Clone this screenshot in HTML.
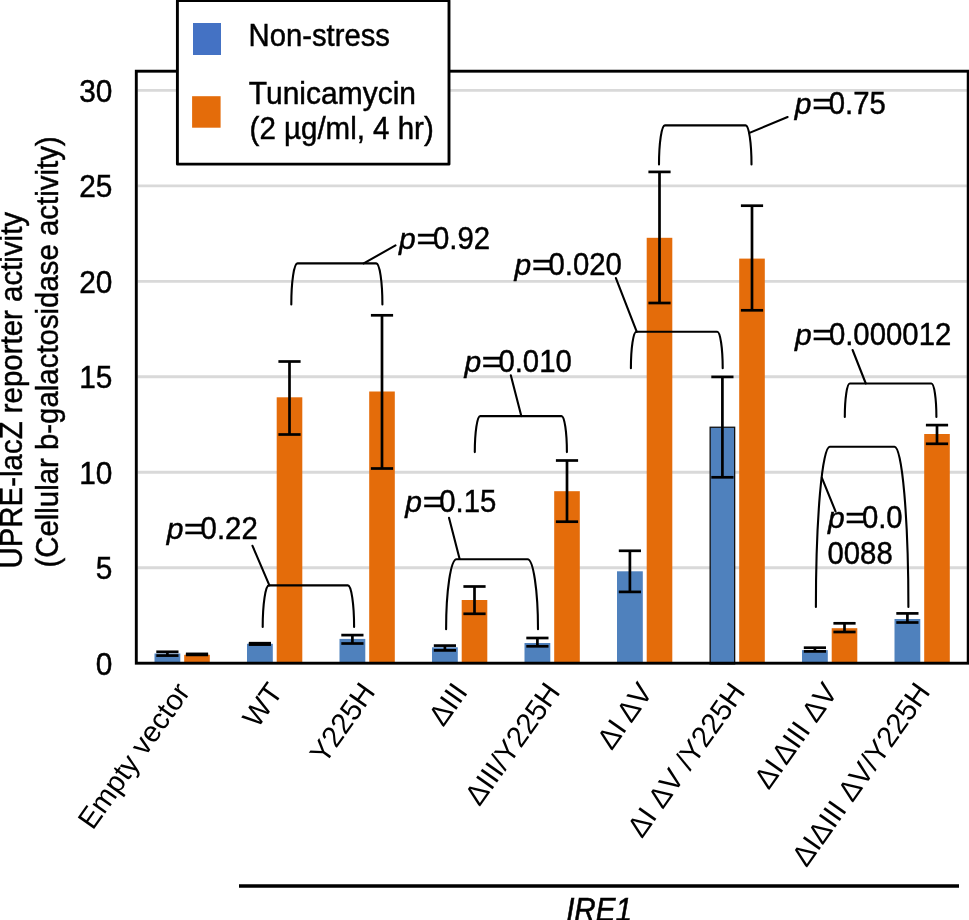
<!DOCTYPE html><html><head><meta charset="utf-8"><title>UPRE-lacZ reporter activity</title><style>
html,body{margin:0;padding:0;background:#fff;}
body{width:969px;height:920px;overflow:hidden;}
svg{display:block;font-family:"Liberation Sans",sans-serif;will-change:transform;}
</style></head><body>
<svg width="969" height="920" viewBox="0 0 969 920">
<rect x="0" y="0" width="969" height="920" fill="#fff"/>
<line x1="137.7" y1="567.76" x2="966.8" y2="567.76" stroke="#D9D9D9" stroke-width="2.8"/>
<line x1="137.7" y1="472.27" x2="966.8" y2="472.27" stroke="#D9D9D9" stroke-width="2.8"/>
<line x1="137.7" y1="376.77" x2="966.8" y2="376.77" stroke="#D9D9D9" stroke-width="2.8"/>
<line x1="137.7" y1="281.28" x2="966.8" y2="281.28" stroke="#D9D9D9" stroke-width="2.8"/>
<line x1="137.7" y1="185.79" x2="966.8" y2="185.79" stroke="#D9D9D9" stroke-width="2.8"/>
<line x1="137.7" y1="90.30" x2="966.8" y2="90.30" stroke="#D9D9D9" stroke-width="2.8"/>
<rect x="154.50" y="653.50" width="25.8" height="9.75" fill="#4F81BD"/>
<rect x="184.20" y="654.80" width="25.6" height="8.45" fill="#E46C0A"/>
<rect x="247.00" y="643.80" width="25.8" height="19.45" fill="#4F81BD"/>
<rect x="276.70" y="397.30" width="25.6" height="265.95" fill="#E46C0A"/>
<rect x="339.50" y="638.90" width="25.8" height="24.35" fill="#4F81BD"/>
<rect x="369.20" y="391.50" width="25.6" height="271.75" fill="#E46C0A"/>
<rect x="432.00" y="647.30" width="25.8" height="15.95" fill="#4F81BD"/>
<rect x="461.70" y="600.00" width="25.6" height="63.25" fill="#E46C0A"/>
<rect x="524.50" y="643.00" width="25.8" height="20.25" fill="#4F81BD"/>
<rect x="554.20" y="491.20" width="25.6" height="172.05" fill="#E46C0A"/>
<rect x="617.00" y="571.30" width="25.8" height="91.95" fill="#4F81BD"/>
<rect x="646.70" y="237.80" width="25.6" height="425.45" fill="#E46C0A"/>
<rect x="710.15" y="427.25" width="24.50" height="236.65" fill="#4F81BD" stroke="#111" stroke-width="1.3"/>
<rect x="739.20" y="258.60" width="25.6" height="404.65" fill="#E46C0A"/>
<rect x="802.00" y="650.10" width="25.8" height="13.15" fill="#4F81BD"/>
<rect x="831.70" y="628.20" width="25.6" height="35.05" fill="#E46C0A"/>
<rect x="894.50" y="619.00" width="25.8" height="44.25" fill="#4F81BD"/>
<rect x="924.20" y="434.00" width="25.6" height="229.25" fill="#E46C0A"/>
<line x1="167.40" y1="651.80" x2="167.40" y2="655.60" stroke="#000" stroke-width="2.7"/><line x1="156.30" y1="651.80" x2="178.50" y2="651.80" stroke="#000" stroke-width="2.7"/><line x1="156.30" y1="655.60" x2="178.50" y2="655.60" stroke="#000" stroke-width="2.7"/>
<line x1="197.00" y1="653.90" x2="197.00" y2="654.90" stroke="#000" stroke-width="2.7"/><line x1="185.90" y1="653.90" x2="208.10" y2="653.90" stroke="#000" stroke-width="2.7"/><line x1="185.90" y1="654.90" x2="208.10" y2="654.90" stroke="#000" stroke-width="2.7"/>
<line x1="259.90" y1="643.20" x2="259.90" y2="644.60" stroke="#000" stroke-width="2.7"/><line x1="248.80" y1="643.20" x2="271.00" y2="643.20" stroke="#000" stroke-width="2.7"/><line x1="248.80" y1="644.60" x2="271.00" y2="644.60" stroke="#000" stroke-width="2.7"/>
<line x1="289.50" y1="361.50" x2="289.50" y2="434.50" stroke="#000" stroke-width="2.7"/><line x1="278.40" y1="361.50" x2="300.60" y2="361.50" stroke="#000" stroke-width="2.7"/><line x1="278.40" y1="434.50" x2="300.60" y2="434.50" stroke="#000" stroke-width="2.7"/>
<line x1="352.40" y1="635.10" x2="352.40" y2="643.50" stroke="#000" stroke-width="2.7"/><line x1="341.30" y1="635.10" x2="363.50" y2="635.10" stroke="#000" stroke-width="2.7"/><line x1="341.30" y1="643.50" x2="363.50" y2="643.50" stroke="#000" stroke-width="2.7"/>
<line x1="382.00" y1="315.30" x2="382.00" y2="468.50" stroke="#000" stroke-width="2.7"/><line x1="370.90" y1="315.30" x2="393.10" y2="315.30" stroke="#000" stroke-width="2.7"/><line x1="370.90" y1="468.50" x2="393.10" y2="468.50" stroke="#000" stroke-width="2.7"/>
<line x1="444.90" y1="645.60" x2="444.90" y2="650.40" stroke="#000" stroke-width="2.7"/><line x1="433.80" y1="645.60" x2="456.00" y2="645.60" stroke="#000" stroke-width="2.7"/><line x1="433.80" y1="650.40" x2="456.00" y2="650.40" stroke="#000" stroke-width="2.7"/>
<line x1="474.50" y1="586.50" x2="474.50" y2="613.80" stroke="#000" stroke-width="2.7"/><line x1="463.40" y1="586.50" x2="485.60" y2="586.50" stroke="#000" stroke-width="2.7"/><line x1="463.40" y1="613.80" x2="485.60" y2="613.80" stroke="#000" stroke-width="2.7"/>
<line x1="537.40" y1="638.00" x2="537.40" y2="646.30" stroke="#000" stroke-width="2.7"/><line x1="526.30" y1="638.00" x2="548.50" y2="638.00" stroke="#000" stroke-width="2.7"/><line x1="526.30" y1="646.30" x2="548.50" y2="646.30" stroke="#000" stroke-width="2.7"/>
<line x1="567.00" y1="460.50" x2="567.00" y2="521.70" stroke="#000" stroke-width="2.7"/><line x1="555.90" y1="460.50" x2="578.10" y2="460.50" stroke="#000" stroke-width="2.7"/><line x1="555.90" y1="521.70" x2="578.10" y2="521.70" stroke="#000" stroke-width="2.7"/>
<line x1="629.90" y1="550.80" x2="629.90" y2="591.90" stroke="#000" stroke-width="2.7"/><line x1="618.80" y1="550.80" x2="641.00" y2="550.80" stroke="#000" stroke-width="2.7"/><line x1="618.80" y1="591.90" x2="641.00" y2="591.90" stroke="#000" stroke-width="2.7"/>
<line x1="659.50" y1="171.90" x2="659.50" y2="303.00" stroke="#000" stroke-width="2.7"/><line x1="648.40" y1="171.90" x2="670.60" y2="171.90" stroke="#000" stroke-width="2.7"/><line x1="648.40" y1="303.00" x2="670.60" y2="303.00" stroke="#000" stroke-width="2.7"/>
<line x1="722.40" y1="376.90" x2="722.40" y2="477.30" stroke="#000" stroke-width="2.7"/><line x1="711.30" y1="376.90" x2="733.50" y2="376.90" stroke="#000" stroke-width="2.7"/><line x1="711.30" y1="477.30" x2="733.50" y2="477.30" stroke="#000" stroke-width="2.7"/>
<line x1="752.00" y1="205.70" x2="752.00" y2="310.30" stroke="#000" stroke-width="2.7"/><line x1="740.90" y1="205.70" x2="763.10" y2="205.70" stroke="#000" stroke-width="2.7"/><line x1="740.90" y1="310.30" x2="763.10" y2="310.30" stroke="#000" stroke-width="2.7"/>
<line x1="814.90" y1="647.70" x2="814.90" y2="651.40" stroke="#000" stroke-width="2.7"/><line x1="803.80" y1="647.70" x2="826.00" y2="647.70" stroke="#000" stroke-width="2.7"/><line x1="803.80" y1="651.40" x2="826.00" y2="651.40" stroke="#000" stroke-width="2.7"/>
<line x1="844.50" y1="623.30" x2="844.50" y2="632.00" stroke="#000" stroke-width="2.7"/><line x1="833.40" y1="623.30" x2="855.60" y2="623.30" stroke="#000" stroke-width="2.7"/><line x1="833.40" y1="632.00" x2="855.60" y2="632.00" stroke="#000" stroke-width="2.7"/>
<line x1="907.40" y1="613.40" x2="907.40" y2="622.50" stroke="#000" stroke-width="2.7"/><line x1="896.30" y1="613.40" x2="918.50" y2="613.40" stroke="#000" stroke-width="2.7"/><line x1="896.30" y1="622.50" x2="918.50" y2="622.50" stroke="#000" stroke-width="2.7"/>
<line x1="937.00" y1="425.10" x2="937.00" y2="443.80" stroke="#000" stroke-width="2.7"/><line x1="925.90" y1="425.10" x2="948.10" y2="425.10" stroke="#000" stroke-width="2.7"/><line x1="925.90" y1="443.80" x2="948.10" y2="443.80" stroke="#000" stroke-width="2.7"/>
<rect x="136.3" y="71.2" width="831.9" height="592.0" fill="none" stroke="#000" stroke-width="2.9"/>
<path d="M262.70 627.00 A6.24 41.60 0 0 1 268.94 585.40 L347.86 585.40 A6.24 41.60 0 0 1 354.10 627.00" fill="none" stroke="#000" stroke-width="2.1" stroke-linecap="round"/>
<path d="M291.30 304.50 A6.17 41.10 0 0 1 297.47 263.40 L376.23 263.40 A6.17 41.10 0 0 1 382.40 304.50" fill="none" stroke="#000" stroke-width="2.1" stroke-linecap="round"/>
<path d="M446.10 629.20 A10.49 69.90 0 0 1 456.59 559.30 L527.51 559.30 A10.49 69.90 0 0 1 538.00 629.20" fill="none" stroke="#000" stroke-width="2.1" stroke-linecap="round"/>
<path d="M474.80 452.10 A5.40 36.00 0 0 1 480.20 416.10 L561.50 416.10 A5.40 36.00 0 0 1 566.90 452.10" fill="none" stroke="#000" stroke-width="2.1" stroke-linecap="round"/>
<path d="M630.90 368.30 A5.47 36.50 0 0 1 636.38 331.80 L717.23 331.80 A5.47 36.50 0 0 1 722.70 368.30" fill="none" stroke="#000" stroke-width="2.1" stroke-linecap="round"/>
<path d="M659.00 164.40 A5.85 39.00 0 0 1 664.85 125.40 L745.65 125.40 A5.85 39.00 0 0 1 751.50 164.40" fill="none" stroke="#000" stroke-width="2.1" stroke-linecap="round"/>
<path d="M844.80 416.90 A5.01 33.40 0 0 1 849.81 383.50 L931.39 383.50 A5.01 33.40 0 0 1 936.40 416.90" fill="none" stroke="#000" stroke-width="2.1" stroke-linecap="round"/>
<path d="M815.90 607.00 A13.88 160.30 0 0 1 829.77 446.70 L894.52 446.70 A13.88 160.30 0 0 1 908.40 607.00" fill="none" stroke="#000" stroke-width="2.1" stroke-linecap="round"/>
<line x1="269.4" y1="585.4" x2="252.5" y2="545.8" stroke="#000" stroke-width="2.1" stroke-linecap="round"/>
<line x1="363.7" y1="263.4" x2="395.5" y2="245.4" stroke="#000" stroke-width="2.1" stroke-linecap="round"/>
<line x1="459.5" y1="558.5" x2="449.0" y2="517.8" stroke="#000" stroke-width="2.1" stroke-linecap="round"/>
<line x1="521.3" y1="416.1" x2="510.8" y2="375.2" stroke="#000" stroke-width="2.1" stroke-linecap="round"/>
<line x1="636.8" y1="331.8" x2="615.9" y2="278.1" stroke="#000" stroke-width="2.1" stroke-linecap="round"/>
<line x1="749.5" y1="132.9" x2="787.6" y2="117.0" stroke="#000" stroke-width="2.1" stroke-linecap="round"/>
<line x1="865.8" y1="383.5" x2="852.6" y2="350.0" stroke="#000" stroke-width="2.1" stroke-linecap="round"/>
<line x1="821.9" y1="477.8" x2="835.5" y2="511.3" stroke="#000" stroke-width="2.1" stroke-linecap="round"/>
<g id="t1" stroke="#000" stroke-width="0.45"><text x="166.70" y="538.80" font-size="30" font-style="italic">p</text><text transform="translate(184.04,538.80) scale(1.14,1)" font-size="30">=</text><text transform="translate(200.60,538.80) scale(0.978,1.07)" font-size="30">0.22</text></g>
<g id="t2" stroke="#000" stroke-width="0.45"><text x="399.10" y="249.10" font-size="30" font-style="italic">p</text><text transform="translate(416.44,249.10) scale(1.14,1)" font-size="30">=</text><text transform="translate(433.00,249.10) scale(0.978,1.07)" font-size="30">0.92</text></g>
<g id="t3" stroke="#000" stroke-width="0.45"><text x="405.30" y="512.30" font-size="30" font-style="italic">p</text><text transform="translate(422.64,512.30) scale(1.14,1)" font-size="30">=</text><text transform="translate(439.20,512.30) scale(0.978,1.07)" font-size="30">0.15</text></g>
<g id="t4" stroke="#000" stroke-width="0.45"><text x="464.50" y="371.60" font-size="30" font-style="italic">p</text><text transform="translate(481.84,371.60) scale(1.14,1)" font-size="30">=</text><text transform="translate(498.40,371.60) scale(0.978,1.07)" font-size="30">0.010</text></g>
<g id="t5" stroke="#000" stroke-width="0.45"><text x="514.60" y="274.70" font-size="30" font-style="italic">p</text><text transform="translate(531.94,274.70) scale(1.14,1)" font-size="30">=</text><text transform="translate(548.50,274.70) scale(0.978,1.07)" font-size="30">0.020</text></g>
<g id="t6" stroke="#000" stroke-width="0.45"><text x="794.80" y="113.90" font-size="30" font-style="italic">p</text><text transform="translate(812.14,113.90) scale(1.14,1)" font-size="30">=</text><text transform="translate(828.70,113.90) scale(0.978,1.07)" font-size="30">0.75</text></g>
<g id="t7" stroke="#000" stroke-width="0.45"><text x="795.00" y="344.50" font-size="30" font-style="italic">p</text><text transform="translate(812.34,344.50) scale(1.14,1)" font-size="30">=</text><text transform="translate(828.90,344.50) scale(0.978,1.07)" font-size="30">0.000012</text></g>
<g id="t8" stroke="#000" stroke-width="0.45"><text x="828.00" y="528.30" font-size="30" font-style="italic">p</text><text transform="translate(845.34,528.30) scale(1.14,1)" font-size="30">=</text><text transform="translate(861.90,528.30) scale(0.978,1.07)" font-size="30">0.0</text></g>
<g id="t9" stroke="#000" stroke-width="0.45"><text transform="translate(827.45,564.2) scale(0.978,1.07)" font-size="30">0088</text></g>
<rect x="177.4" y="0.6" width="271.6" height="163.55" fill="#fff" stroke="#000" stroke-width="2.9" stroke-linejoin="round"/>
<rect x="193" y="23" width="28" height="32" fill="#4472C4"/>
<rect x="192.1" y="96.2" width="28.5" height="31.5" fill="#E46C0A"/>
<text id="l1" stroke="#000" stroke-width="0.45" transform="translate(248.6,46) scale(0.991,1.04)" font-size="29.5">Non-stress</text>
<text id="l2" stroke="#000" stroke-width="0.45" transform="translate(248.8,104.2) scale(1.017,1.04)" font-size="29.5">Tunicamycin</text>
<text id="l3" stroke="#000" stroke-width="0.45" transform="translate(249.6,139.4) scale(1.0,1.04)" font-size="29.5">(2 µg/ml, 4 hr)</text>
<text stroke="#000" stroke-width="0.45" transform="translate(112.4,674.75) scale(0.995,1.05)" font-size="30" text-anchor="end">0</text>
<text stroke="#000" stroke-width="0.45" transform="translate(112.4,579.26) scale(0.995,1.05)" font-size="30" text-anchor="end">5</text>
<text stroke="#000" stroke-width="0.45" transform="translate(112.4,483.77) scale(0.995,1.05)" font-size="30" text-anchor="end">10</text>
<text stroke="#000" stroke-width="0.45" transform="translate(112.4,388.27) scale(0.995,1.05)" font-size="30" text-anchor="end">15</text>
<text stroke="#000" stroke-width="0.45" transform="translate(112.4,292.78) scale(0.995,1.05)" font-size="30" text-anchor="end">20</text>
<text stroke="#000" stroke-width="0.45" transform="translate(112.4,197.29) scale(0.995,1.05)" font-size="30" text-anchor="end">25</text>
<text stroke="#000" stroke-width="0.45" transform="translate(112.4,101.80) scale(0.995,1.05)" font-size="30" text-anchor="end">30</text>
<text id="yt1" stroke="#000" stroke-width="0.45" transform="translate(22.3,568.6) rotate(-90) scale(1.005,1.05)" font-size="29.3">UPRE-lacZ reporter activity</text>
<text id="yt2" stroke="#000" stroke-width="0.45" transform="translate(58.1,567.6) rotate(-90) scale(1.0035,1.05)" font-size="29.3">(Cellular b-galactosidase activity)</text>
<text id="x0" transform="translate(191.20,692.1) rotate(-54.7)" font-size="29.2" text-anchor="end">Empty vector</text>
<text id="x1" transform="translate(283.70,692.1) rotate(-54.7)" font-size="29.2" text-anchor="end">WT</text>
<text id="x2" transform="translate(376.20,692.1) rotate(-54.7)" font-size="29.2" text-anchor="end">Y225H</text>
<text id="x3" transform="translate(468.70,692.1) rotate(-54.7)" font-size="29.2" text-anchor="end">ΔIII</text>
<text id="x4" transform="translate(561.20,692.1) rotate(-54.7)" font-size="29.2" text-anchor="end">ΔIII/Y225H</text>
<text id="x5" transform="translate(653.70,692.1) rotate(-54.7)" font-size="29.2" text-anchor="end">ΔI ΔV</text>
<text id="x6" transform="translate(746.20,692.1) rotate(-54.7)" font-size="29.2" text-anchor="end">ΔI ΔV /Y225H</text>
<text id="x7" transform="translate(838.70,692.1) rotate(-54.7)" font-size="29.2" text-anchor="end">ΔI ΔIII ΔV</text>
<text id="x8" transform="translate(931.20,692.1) rotate(-54.7)" font-size="29.2" text-anchor="end">ΔIΔIII ΔV/Y225H</text>
<line x1="239" y1="886" x2="959" y2="886" stroke="#000" stroke-width="3.6"/>
<text id="ire" transform="translate(599,921.3) scale(1.02,1.14)" stroke="#000" stroke-width="0.5" font-size="29" font-style="italic" text-anchor="middle">IRE1</text>
</svg></body></html>
